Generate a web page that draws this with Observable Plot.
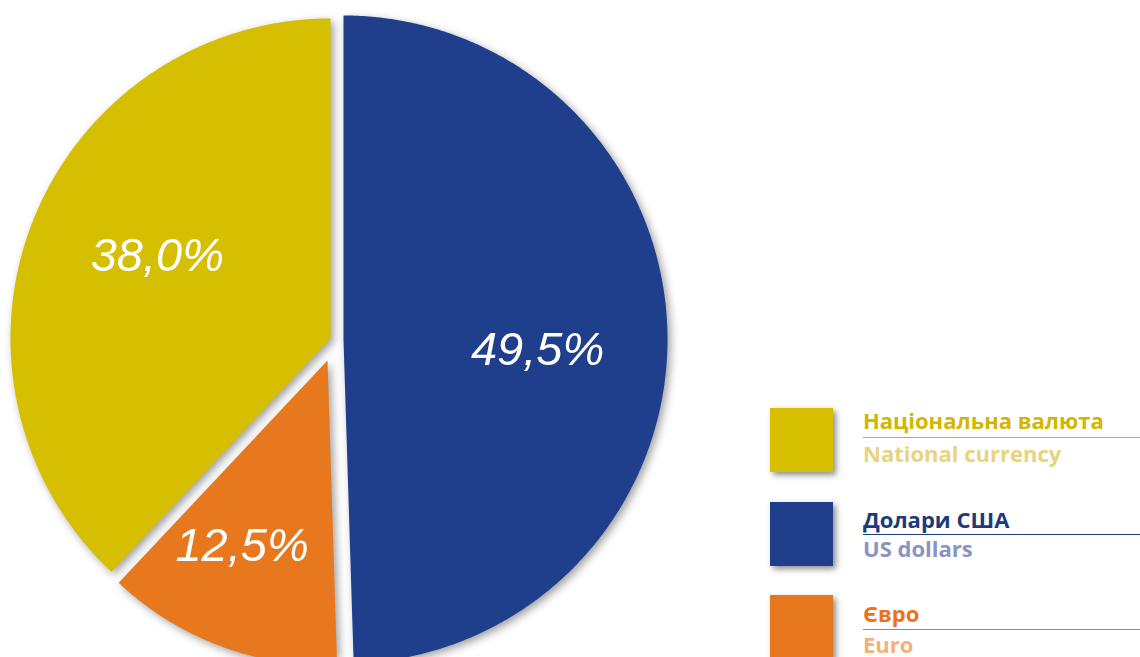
<!DOCTYPE html>
<html>
<head>
<meta charset="utf-8">
<script src="https://cdn.jsdelivr.net/npm/d3@7"></script>
<script src="https://cdn.jsdelivr.net/npm/@observablehq/plot@0.6"></script>
<style>
  html, body { margin: 0; padding: 0; background: #fff; }
  #wrap { position: relative; width: 1140px; height: 657px; overflow: hidden; }
  #chart { position: absolute; left: 0; top: 0; width: 700px; height: 657px; }
  #chart svg { filter: drop-shadow(3px 3px 4px rgba(0,0,0,0.38)); }
  .lg { position: absolute; font-family: "Open Sans", "Liberation Sans", sans-serif; font-weight: 700; }
  .sw { left: 770px; width: 63px; height: 64px; box-shadow: 3px 3px 6px rgba(0,0,0,0.45); }
  .tx { left: 863px; font-size: 22px; line-height: 1; white-space: nowrap; }
  .rule { left: 863px; width: 277px; height: 1.3px; }
</style>
</head>
<body>
<div id="wrap">
  <div id="chart"></div>
  <div id="legend"></div>
</div>
<script>
// ---- data ----
const categories = ["Долари США", "Євро", "Національна валюта"];
const categoriesEn = ["US dollars", "Euro", "National currency"];
const shares = [49.5, 12.5, 38.0];
const labels = ["49,5%", "12,5%", "38,0%"];
const legendOrder = ["Національна валюта", "Долари США", "Євро"];

// ---- styling / layout (not data) ----
const sliceColors = ["#1f3e8c", "#e8781e", "#d6be00"];
const headColors = ["#1d3a7a", "#e9721c", "#d3b600"];
const subColors = ["#8a93c2", "#f4b07a", "#e8d37e"];
const sliceGeom = [
  {cx: 343, cy: 339, r: 324, lr: 0.60},
  {cx: 327, cy: 360, r: 305, lr: 0.67},
  {cx: 330, cy: 338, r: 320, lr: 0.60}
];
const labelTurn = 4 * Math.PI / 180;
// legend rows: swatch top, heading baseline, rule y, sub baseline
const legendRows = [
  {sw: 408, hb: 428, ru: 437, sb: 461},
  {sw: 502, hb: 527, ru: 533.5, sb: 556},
  {sw: 595, hb: 621, ru: 628.5, sb: 652}
];
const baselineOffset = 19.5; // Open Sans 22px, line-height 1

// ---- build ----
const rows = categories.map((c, i) => ({cat: c, en: categoriesEn[i], share: shares[i], label: labels[i], i}));
const arcs = d3.pie().sort(null).value(d => d.share)(rows);

const polyPts = [];
arcs.forEach(a => {
  const g = sliceGeom[a.data.i];
  const n = Math.max(8, Math.ceil((a.endAngle - a.startAngle) / (Math.PI / 360)));
  polyPts.push({cat: a.data.cat, x: g.cx, y: g.cy});
  for (let k = 0; k <= n; k++) {
    const t = a.startAngle + (a.endAngle - a.startAngle) * k / n;
    polyPts.push({cat: a.data.cat, x: g.cx + g.r * Math.sin(t), y: g.cy - g.r * Math.cos(t)});
  }
  polyPts.push({cat: a.data.cat, x: g.cx, y: g.cy});
});

const labelRows = arcs.map(a => {
  const g = sliceGeom[a.data.i];
  const t = (a.startAngle + a.endAngle) / 2 + labelTurn;
  return {x: g.cx + g.lr * g.r * Math.sin(t), y: g.cy - g.lr * g.r * Math.cos(t), text: a.data.label};
});

const plot = Plot.plot({
  width: 700,
  height: 657,
  margin: 0,
  x: {domain: [0, 700], range: [0, 700], axis: null},
  y: {domain: [0, 657], range: [0, 657], axis: null},
  color: {domain: categories, range: sliceColors},
  marks: [
    Plot.line(polyPts, {x: "x", y: "y", z: "cat", fill: "cat", stroke: null, curve: "linear"}),
    Plot.text(labelRows, {x: "x", y: "y", text: "text", fill: "white", fontSize: 47, fontStyle: "italic",
      fontFamily: "Liberation Sans, Arial, sans-serif", ariaLabel: "pct"})
  ]
});
d3.select(plot).selectAll('g[aria-label="pct"]')
  .style("letter-spacing", "-3px")
  .style("filter", "drop-shadow(2px 2.5px 1.5px rgba(0,0,0,0.75))");
document.getElementById("chart").appendChild(plot);

// ---- legend (HTML) ----
const legend = document.getElementById("legend");
legendOrder.forEach((cat, j) => {
  const r = rows.find(d => d.cat === cat);
  const L = legendRows[j];
  legend.insertAdjacentHTML("beforeend", `
    <div class="lg sw" style="top:${L.sw}px;background:${sliceColors[r.i]}"></div>
    <div class="lg tx" style="top:${L.hb - baselineOffset}px;color:${headColors[r.i]}">${r.cat}</div>
    <div class="lg rule" style="top:${L.ru}px;background:${headColors[r.i]}"></div>
    <div class="lg tx" style="top:${L.sb - baselineOffset}px;color:${subColors[r.i]}">${r.en}</div>`);
});
</script>
</body>
</html>
